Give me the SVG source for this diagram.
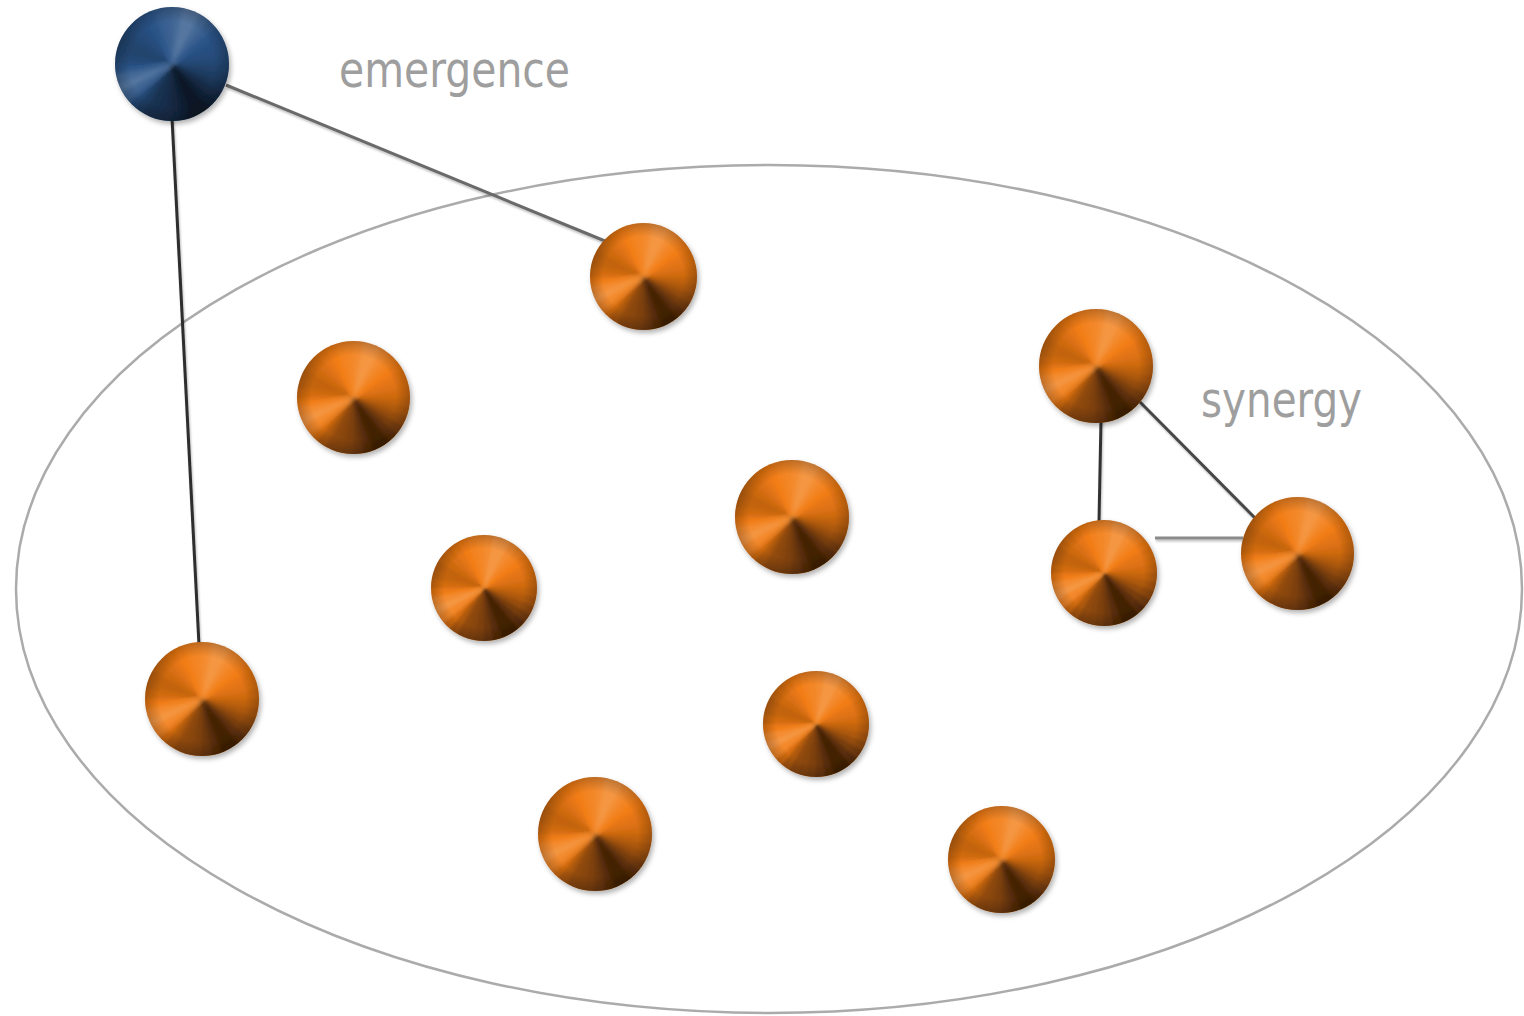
<svg xmlns="http://www.w3.org/2000/svg" xmlns:xlink="http://www.w3.org/1999/xlink" width="1524" height="1016" viewBox="0 0 1524 1016">
  <style>
    .label { font-family: "DejaVu Sans Condensed", "DejaVu Sans", Verdana, sans-serif; font-size: 50px; fill: #9e9e9e; }
    .link { fill: none; stroke-width: 3; stroke-linecap: butt; }
    .hi { fill: #fff; }
    .lo { fill: #000; }
    .orange { color: #f27c14; }
    .blue { color: #2a5488; }
  </style>
  <defs>
    <filter id="soft" x="-5%" y="-5%" width="110%" height="110%">
      <feGaussianBlur stdDeviation="0.7"/>
    </filter>
    <filter id="shadow" x="-30%" y="-30%" width="160%" height="160%">
      <feDropShadow dx="2" dy="3" stdDeviation="2.5" flood-color="#000" flood-opacity="0.3"/>
    </filter>
    <filter id="lineShadow" x="-10%" y="-10%" width="120%" height="120%">
      <feDropShadow dx="1" dy="2" stdDeviation="1" flood-color="#000" flood-opacity="0.25"/>
    </filter>
    <filter id="smooth" filterUnits="userSpaceOnUse" x="-1.2" y="-1.2" width="2.4" height="2.4">
      <feGaussianBlur stdDeviation="0.035"/>
    </filter>
    <clipPath id="unit">
      <circle cx="0" cy="0" r="1"/>
    </clipPath>
    <radialGradient id="rim" cx="0" cy="0" r="1" gradientUnits="userSpaceOnUse">
      <stop offset="0.75" stop-color="#000" stop-opacity="0"/>
      <stop offset="1" stop-color="#000" stop-opacity="0.22"/>
    </radialGradient>
    <!-- conical shading built from 10-degree wedges over a base colour -->
    <symbol id="ball" viewBox="-1 -1 2 2" overflow="visible">
      <circle cx="0" cy="0" r="1" fill="currentColor"/>
      <g clip-path="url(#unit)">
        <g filter="url(#smooth)" shape-rendering="crispEdges">
          <polygon class="hi" fill-opacity="0.12" points="0,0 0,-1.1 0.191,-1.083"/>
          <polygon class="hi" fill-opacity="0.20" points="0,0 0.191,-1.083 0.376,-1.034"/>
          <polygon class="hi" fill-opacity="0.20" points="0,0 0.376,-1.034 0.55,-0.953"/>
          <polygon class="hi" fill-opacity="0.12" points="0,0 0.55,-0.953 0.707,-0.843"/>
          <polygon class="hi" fill-opacity="0.06" points="0,0 0.707,-0.843 0.843,-0.707"/>
          <polygon class="lo" fill-opacity="0.00" points="0,0 0.843,-0.707 0.953,-0.55"/>
          <polygon class="lo" fill-opacity="0.05" points="0,0 0.953,-0.55 1.034,-0.376"/>
          <polygon class="lo" fill-opacity="0.08" points="0,0 1.034,-0.376 1.083,-0.191"/>
          <polygon class="lo" fill-opacity="0.13" points="0,0 1.083,-0.191 1.1,0"/>
          <polygon class="lo" fill-opacity="0.20" points="0,0 1.1,0 1.083,0.191"/>
          <polygon class="lo" fill-opacity="0.28" points="0,0 1.083,0.191 1.034,0.376"/>
          <polygon class="lo" fill-opacity="0.38" points="0,0 1.034,0.376 0.953,0.55"/>
          <polygon class="lo" fill-opacity="0.50" points="0,0 0.953,0.55 0.843,0.707"/>
          <polygon class="lo" fill-opacity="0.62" points="0,0 0.843,0.707 0.707,0.843"/>
          <polygon class="lo" fill-opacity="0.72" points="0,0 0.707,0.843 0.55,0.953"/>
          <polygon class="lo" fill-opacity="0.72" points="0,0 0.55,0.953 0.376,1.034"/>
          <polygon class="lo" fill-opacity="0.64" points="0,0 0.376,1.034 0.191,1.083"/>
          <polygon class="lo" fill-opacity="0.55" points="0,0 0.191,1.083 0,1.1"/>
          <polygon class="lo" fill-opacity="0.48" points="0,0 0,1.1 -0.191,1.083"/>
          <polygon class="lo" fill-opacity="0.44" points="0,0 -0.191,1.083 -0.376,1.034"/>
          <polygon class="lo" fill-opacity="0.40" points="0,0 -0.376,1.034 -0.55,0.953"/>
          <polygon class="lo" fill-opacity="0.28" points="0,0 -0.55,0.953 -0.707,0.843"/>
          <polygon class="lo" fill-opacity="0.10" points="0,0 -0.707,0.843 -0.843,0.707"/>
          <polygon class="hi" fill-opacity="0.10" points="0,0 -0.843,0.707 -0.953,0.55"/>
          <polygon class="hi" fill-opacity="0.20" points="0,0 -0.953,0.55 -1.034,0.376"/>
          <polygon class="hi" fill-opacity="0.12" points="0,0 -1.034,0.376 -1.083,0.191"/>
          <polygon class="lo" fill-opacity="0.02" points="0,0 -1.083,0.191 -1.1,0"/>
          <polygon class="lo" fill-opacity="0.13" points="0,0 -1.1,0 -1.083,-0.191"/>
          <polygon class="lo" fill-opacity="0.19" points="0,0 -1.083,-0.191 -1.034,-0.376"/>
          <polygon class="lo" fill-opacity="0.20" points="0,0 -1.034,-0.376 -0.953,-0.55"/>
          <polygon class="lo" fill-opacity="0.15" points="0,0 -0.953,-0.55 -0.843,-0.707"/>
          <polygon class="lo" fill-opacity="0.10" points="0,0 -0.843,-0.707 -0.707,-0.843"/>
          <polygon class="lo" fill-opacity="0.05" points="0,0 -0.707,-0.843 -0.55,-0.953"/>
          <polygon class="lo" fill-opacity="0.00" points="0,0 -0.55,-0.953 -0.376,-1.034"/>
          <polygon class="hi" fill-opacity="0.05" points="0,0 -0.376,-1.034 -0.191,-1.083"/>
          <polygon class="hi" fill-opacity="0.08" points="0,0 -0.191,-1.083 0,-1.1"/>
        </g>
      </g>
      <circle cx="0" cy="0" r="1" fill="url(#rim)"/>
    </symbol>
  </defs>

  <rect width="1524" height="1016" fill="#ffffff"/>

  <!-- system boundary -->
  <g id="boundary">
    <ellipse cx="769" cy="589" rx="753" ry="424" fill="none" stroke="#ababab" stroke-width="2.5" filter="url(#soft)"/>
  </g>

  <!-- connectors -->
  <g id="connectors" filter="url(#lineShadow)">
    <line class="link" x1="226" y1="85" x2="605" y2="241" stroke="#6a6a6a"/>
    <line class="link" x1="172" y1="118" x2="199" y2="645" stroke="#2e2e2e"/>
    <line class="link" x1="1101" y1="420" x2="1099" y2="522" stroke="#333333"/>
    <line class="link" x1="1140" y1="402" x2="1256" y2="519" stroke="#474747"/>
    <line class="link" x1="1155" y1="538" x2="1243" y2="538" stroke="#8a8a8a"/>
  </g>

  <!-- nodes -->
  <g id="node-whole" class="blue" filter="url(#shadow)">
    <use xlink:href="#ball" href="#ball" x="115" y="7" width="114" height="114"/>
  </g>
  <g id="node-1" class="orange" filter="url(#shadow)">
    <use xlink:href="#ball" href="#ball" x="590" y="223" width="107" height="107"/>
  </g>
  <g id="node-2" class="orange" filter="url(#shadow)">
    <use xlink:href="#ball" href="#ball" x="297" y="341" width="113" height="113"/>
  </g>
  <g id="node-3" class="orange" filter="url(#shadow)">
    <use xlink:href="#ball" href="#ball" x="1039" y="309" width="114" height="114"/>
  </g>
  <g id="node-4" class="orange" filter="url(#shadow)">
    <use xlink:href="#ball" href="#ball" x="735" y="460" width="114" height="114"/>
  </g>
  <g id="node-5" class="orange" filter="url(#shadow)">
    <use xlink:href="#ball" href="#ball" x="431" y="535" width="106" height="106"/>
  </g>
  <g id="node-6" class="orange" filter="url(#shadow)">
    <use xlink:href="#ball" href="#ball" x="1051" y="520" width="106" height="106"/>
  </g>
  <g id="node-7" class="orange" filter="url(#shadow)">
    <use xlink:href="#ball" href="#ball" x="1241" y="497" width="113" height="113"/>
  </g>
  <g id="node-8" class="orange" filter="url(#shadow)">
    <use xlink:href="#ball" href="#ball" x="145" y="642" width="114" height="114"/>
  </g>
  <g id="node-9" class="orange" filter="url(#shadow)">
    <use xlink:href="#ball" href="#ball" x="763" y="671" width="106" height="106"/>
  </g>
  <g id="node-10" class="orange" filter="url(#shadow)">
    <use xlink:href="#ball" href="#ball" x="538" y="777" width="114" height="114"/>
  </g>
  <g id="node-11" class="orange" filter="url(#shadow)">
    <use xlink:href="#ball" href="#ball" x="948" y="806" width="107" height="107"/>
  </g>

  <!-- labels -->
  <g id="label-emergence">
    <text class="label" x="339" y="87" textLength="231" lengthAdjust="spacingAndGlyphs">emergence</text>
  </g>
  <g id="label-synergy">
    <text class="label" x="1201" y="417" textLength="161" lengthAdjust="spacingAndGlyphs">synergy</text>
  </g>
</svg>
